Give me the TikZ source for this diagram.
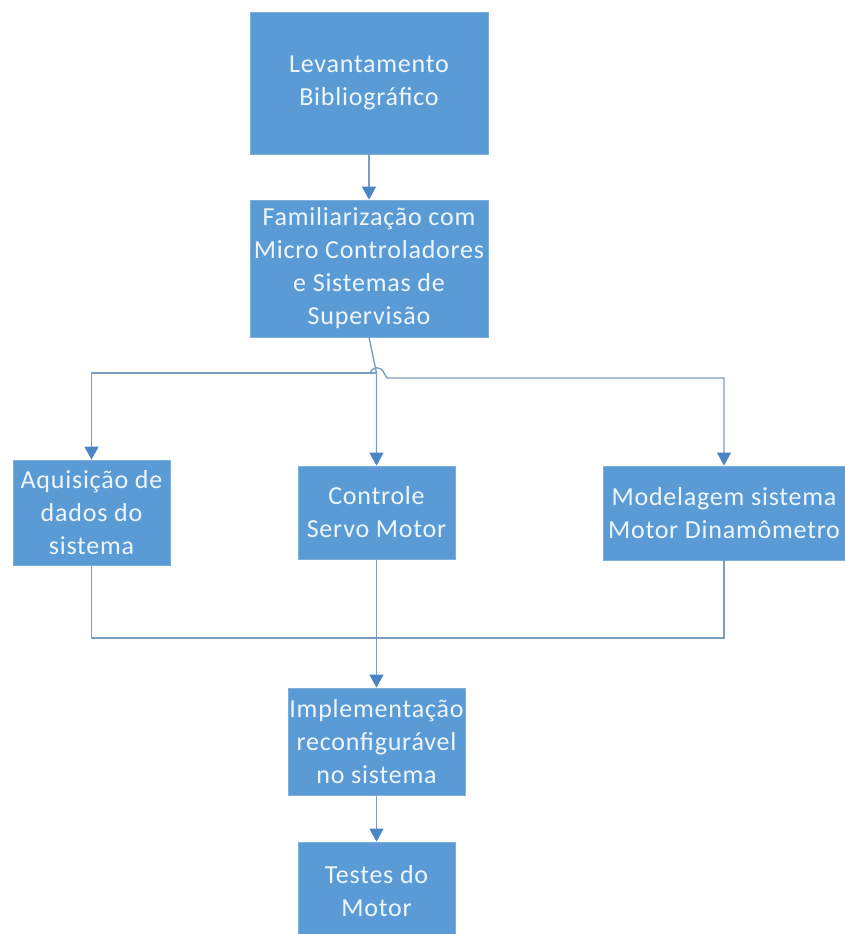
\documentclass[tikz,border=0pt]{standalone}
\usepackage{fontspec}
\setmainfont{Carlito}[LetterSpace=3]
\usetikzlibrary{arrows.meta}
\definecolor{boxfill}{HTML}{5B9BD5}
\definecolor{boxedge}{HTML}{7DB0DE}
\definecolor{linecol}{HTML}{7D9DC0}
\definecolor{tipcol}{HTML}{4A86C5}
\definecolor{txtcol}{HTML}{EEF6FF}
\tikzset{
  stepbox/.style={rectangle, fill=boxfill, draw=boxedge, line width=0.8pt,
    text=txtcol, align=center, inner sep=1pt,
    font=\fontsize{26}{33}\selectfont},
  link/.style={draw=linecol, line width=1.4pt},
  arr/.style={link, -{Triangle[width=14pt,length=13pt,color=tipcol]}}
}
\begin{document}
\begin{tikzpicture}[x=1pt,y=-1pt]
\useasboundingbox (0,0) rectangle (845,934);
\begin{scope}
\clip (0,0) rectangle (845,934);

% process boxes
\node[stepbox, minimum width=238pt, minimum height=142pt] (lev) at (369,83)
  {Levantamento\\Bibliográfico};
\node[stepbox, minimum width=238pt, minimum height=137pt] (fam) at (369,268.5)
  {Familiarização com\\Micro Controladores\\e Sistemas de\\Supervisão};
\node[stepbox, minimum width=157pt, minimum height=105pt] (aq) at (91.5,512.5)
  {Aquisição de\\dados do\\sistema};
\node[stepbox, minimum width=157pt, minimum height=93pt] (ctl) at (376.5,512.5)
  {Controle\\Servo Motor};
\node[stepbox, minimum width=242pt, minimum height=94pt] (mod) at (724,513)
  {Modelagem sistema\\Motor Dinamômetro};
\node[stepbox, minimum width=177pt, minimum height=107pt] (imp) at (376.5,741.5)
  {Implementação\\reconfigurável\\no sistema};
\node[stepbox, minimum width=157pt, minimum height=98pt] (tst) at (376.5,891)
  {Testes do\\Motor};

% junction points
\coordinate (jn) at (376.5,373);
\coordinate (hopa) at (370,373);
\coordinate (hopb) at (384,373);
\coordinate (hopc) at (387,378);
\coordinate (jb) at (376.5,638);

% fan-out from the second step
\draw[arr] (lev) -- (fam);
\draw[arr] (fam.south) -- (jn) -- (ctl.north);
\draw[arr] (jn) -| (aq.north);
\draw[arr] (hopa) .. controls (373,366) and (381,366) .. (hopb) -- (hopc) -| (mod.north);

% merge into implementation
\draw[link] (aq.south) |- (jb);
\draw[link] (mod.south) |- (jb);
\draw[arr] (ctl.south) -- (imp.north);
\draw[arr] (imp) -- (tst);
\end{scope}
\end{tikzpicture}
\end{document}
